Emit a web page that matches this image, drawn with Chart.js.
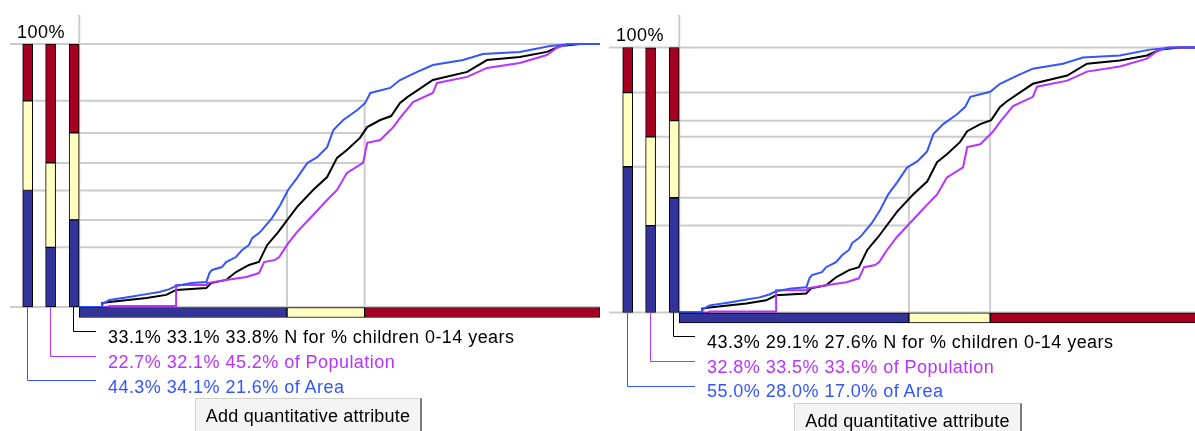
<!DOCTYPE html>
<html><head><meta charset="utf-8">
<script src="https://cdn.jsdelivr.net/npm/chart.js@4.4.1/dist/chart.umd.min.js"></script>
<style>
html,body{margin:0;padding:0;background:#fff;overflow:hidden;width:1195px;height:431px;}
.panel{position:absolute;top:0;width:600px;height:431px;}
.panel canvas{position:absolute;left:0;top:0;}
.txt{position:absolute;font-family:"Liberation Sans",Arial,sans-serif;font-size:18px;line-height:20px;letter-spacing:0.45px;white-space:nowrap;}
.btn{position:absolute;box-sizing:border-box;height:36px;background:#f4f4f4;border:1px solid #d0d0d0;border-right:2px solid #7a7a7a;font-family:"Liberation Sans",Arial,sans-serif;font-size:18px;line-height:20px;padding-top:7px;text-align:center;color:#000;white-space:nowrap;letter-spacing:0.2px;}
</style></head><body>
<div id="p0" class="panel" style="left:0"><canvas id="c0" width="600" height="431"></canvas></div>
<div id="p1" class="panel" style="left:600px"><canvas id="c1" width="600" height="431"></canvas></div>
<script>
// ---- cumulative curves (x = position in value range of "% children 0-14 years", y = cumulative %) ----
const areaX = [0,4.4,4.4,5.8,9.6,12.9,15.4,17.3,18.6,21.5,24.4,25.0,25.5,27.4,28.2,30.1,31.3,32.6,33.2,34.5,35.1,37.0,38.6,40.1,41.8,43.8,45.7,47.6,48.8,50.7,53.4,54.9,55.9,59.7,61.6,64.9,67.9,73.7,77.5,84.6,90.4,94.8,100];
const areaY = [0,0,1.1,2.7,3.8,4.9,5.7,6.8,8.0,9.1,9.5,12.9,14.1,15.2,17.1,19.0,21.7,23.6,26.2,28.1,29.3,33.8,38.8,44.5,49.0,54.8,57.0,60.8,67.3,71.1,74.9,77.6,81.4,83.3,86.3,89.4,92.0,93.9,96.2,97.0,99.2,100,100];
const popX = [0,5.8,5.8,18.6,18.6,24.6,24.6,28.2,32.1,34.5,35.5,37.6,38.4,39.9,41.8,44.9,47.6,49.5,51.4,54.5,55.3,57.8,60.3,61.6,64.1,67.9,68.7,74.5,78.3,84.6,89.8,91.7,93.7,100];
const popY = [0,0,0.4,0.4,8.4,8.4,9.1,10.3,11.4,12.9,17.1,17.9,19.0,23.6,28.5,35.0,40.7,44.5,51.0,54.8,62.4,63.5,68.4,71.9,77.9,81.4,85.2,87.5,90.9,92.8,95.8,98.5,100,100];
const nX = [0,4.4,4.4,5.8,12.9,16.7,18.6,24.4,25.3,28.2,30.1,32.6,34.5,36.1,38.2,40.1,41.8,44.9,47.6,49.5,51.4,53.9,55.3,57.8,59.9,61.6,63.0,67.9,74.5,78.3,84.6,89.8,92.3,96.2,100];
const nY = [0,0,1.5,1.9,3.4,4.6,6.5,7.2,9.1,10.3,13.3,16.0,17.1,23.6,28.5,33.5,38.0,44.5,49.4,56.7,59.7,64.3,68.4,71.1,72.6,77.6,79.8,86.3,89.4,93.9,95.1,97.0,99.2,100,100];

// ---- class shares (low / mid / high) ----
const leftArea = [44.3, 34.1, 21.6];
const leftPop  = [22.7, 32.1, 45.2];
const leftN    = [33.1, 33.1, 33.8];
const rightArea = [55.0, 28.0, 17.0];
const rightPop  = [32.8, 33.5, 33.6];
const rightN    = [43.3, 29.1, 27.6];
// class breaks on the value axis
const leftBreaks  = [39.9, 54.8];
const rightBreaks = [44.1, 59.7];

const classColors = ['#333399', '#ffffbf', '#a50021'];
const lineColors  = ['#3355ff', '#b733ff', '#000000']; // area, population, N
const rowSuffix = [' N for % children 0-14 years', ' of Population', ' of Area'];

const cols = [-9.9, -5.5, -0.98];   // columns for area, population, N bars
const XMIN = -15.22;

function cum(arr, k){ let s = 0; for (let i = 0; i < k; i++) s += arr[i]; return s; }

function makeDecor(cfg){
  return {
    id: 'decor',
    beforeDatasetsDraw(chart){
      const {ctx} = chart; const x = chart.scales.x, y = chart.scales.y;
      ctx.save();
      ctx.strokeStyle = '#cccccc'; ctx.lineWidth = 2;
      const line = (x1,y1,x2,y2)=>{ctx.beginPath();ctx.moveTo(x1,y1);ctx.lineTo(x2,y2);ctx.stroke();};
      const y100 = y.getPixelForValue(100), y0 = y.getPixelForValue(0);
      const x0 = x.getPixelForValue(0), xr = x.getPixelForValue(100);
      line(cfg.gridLeft, y100, xr, y100);
      line(cfg.gridLeft, y0, xr, y0);
      line(x0, cfg.lineTop, x0, y0);
      line(xr + 1, cfg.lineTop, xr + 1, y0);
      cfg.shares.forEach((arr, i) => {
        for (let j = 0; j < 2; j++) {
          const yy = y.getPixelForValue(cum(arr, j + 1));
          line(x.getPixelForValue(cols[i]), yy, x.getPixelForValue(cfg.breaks[j]), yy);
        }
      });
      cfg.breaks.forEach((b, j) => {
        const top = Math.max(...cfg.shares.map(a => cum(a, j + 1)));
        const xb = x.getPixelForValue(b);
        line(xb, y.getPixelForValue(top), xb, y0);
      });
      ctx.restore();
    },
    afterDatasetsDraw(chart){
      const {ctx} = chart; const x = chart.scales.x, y = chart.scales.y;
      const y0 = y.getPixelForValue(0);
      ctx.save(); ctx.lineWidth = 1;
      for (let i = 0; i < 3; i++) {
        const xc = Math.round(x.getPixelForValue(cols[i])) - 0.5;
        const yc = cfg.connY[i] + 0.5;
        ctx.strokeStyle = lineColors[i];
        ctx.beginPath(); ctx.moveTo(xc, y0); ctx.lineTo(xc, yc); ctx.lineTo(cfg.connX, yc); ctx.stroke();
      }
      ctx.restore();
    }
  };
}

const panels = [
  {canvas:'c0', host:'p0', shares:[leftArea, leftPop, leftN], breaks:leftBreaks, y100:44, y0:307,
   gridLeft:10, lineTop:15, connY:[380,356,331], connX:96, textLeft:108, textTop:[327,352,377],
   pctLeft:17, pctTop:22, btnLeft:195, btnTop:398, btnWidth:227, hbarY:-2.1},
  {canvas:'c1', host:'p1', shares:[rightArea, rightPop, rightN], breaks:rightBreaks, y100:47.5, y0:312.5,
   gridLeft:9, lineTop:15, connY:[386,361,336], connX:95, textLeft:107, textTop:[332,357,381],
   pctLeft:16, pctTop:25, btnLeft:194, btnTop:403, btnWidth:228, hbarY:-2.0}
];

panels.forEach(cfg => {
  const pxPerPct = (cfg.y0 - cfg.y100) / 100;
  const bottomPx = cfg.y0 + 5 * pxPerPct;
  const datasets = [];
  // vertical stacked share bars (one dataset per class)
  for (let k = 0; k < 3; k++) {
    datasets.push({
      type:'bar', grouped:false, barThickness:10, borderWidth:1, borderColor:'#000', borderSkipped:false,
      backgroundColor: classColors[k], clip:false,
      data: cfg.shares.map((arr, i) => ({x: cols[i], y: [cum(arr, k), cum(arr, k + 1)]}))
    });
  }
  // horizontal class bar under the plot
  const edges = [0, ...cfg.breaks, 100];
  datasets.push({
    type:'bar', indexAxis:'y', grouped:false, barThickness:10, borderWidth:1, borderColor:'#000', borderSkipped:false,
    backgroundColor: classColors, clip:false,
    data: [0,1,2].map(k => ({y: cfg.hbarY, x: [edges[k], edges[k + 1]]}))
  });
  const curves = [[areaX, areaY], [popX, popY], [nX, nY]];
  curves.forEach((c, i) => {
    datasets.push({
      type:'line', borderColor: lineColors[i], borderWidth:2, pointRadius:0, fill:false, tension:0, clip:false,
      data: c[0].map((v, j) => ({x: v, y: c[1][j]}))
    });
  });
  new Chart(document.getElementById(cfg.canvas), {
    type:'line',
    data:{datasets},
    options:{
      responsive:false, animation:false, devicePixelRatio:1, events:[],
      layout:{padding:{left:0, right:0, top:cfg.y100, bottom:431 - bottomPx}},
      scales:{
        x:{type:'linear', min:XMIN, max:100, display:false, offset:false},
        y:{type:'linear', min:-5, max:100, display:false, offset:false}
      },
      plugins:{legend:{display:false}, tooltip:{enabled:false}}
    },
    plugins:[makeDecor(cfg)]
  });
  // texts
  const host = document.getElementById(cfg.host);
  const pct = document.createElement('div');
  pct.className = 'txt'; pct.style.left = cfg.pctLeft + 'px'; pct.style.top = cfg.pctTop + 'px';
  pct.textContent = '100%';
  host.appendChild(pct);
  const rows = [cfg.shares[2], cfg.shares[1], cfg.shares[0]];
  const rowColors = [lineColors[2], lineColors[1], lineColors[0]];
  rows.forEach((arr, r) => {
    const d = document.createElement('div');
    d.className = 'txt';
    d.style.left = cfg.textLeft + 'px'; d.style.top = cfg.textTop[r] + 'px'; d.style.color = rowColors[r];
    d.textContent = arr.map(v => v.toFixed(1) + '%').join(' ') + rowSuffix[r];
    host.appendChild(d);
  });
  const b = document.createElement('div');
  b.className = 'btn';
  b.style.left = cfg.btnLeft + 'px'; b.style.top = cfg.btnTop + 'px'; b.style.width = cfg.btnWidth + 'px';
  b.textContent = 'Add quantitative attribute';
  host.appendChild(b);
});
</script>
</body></html>
